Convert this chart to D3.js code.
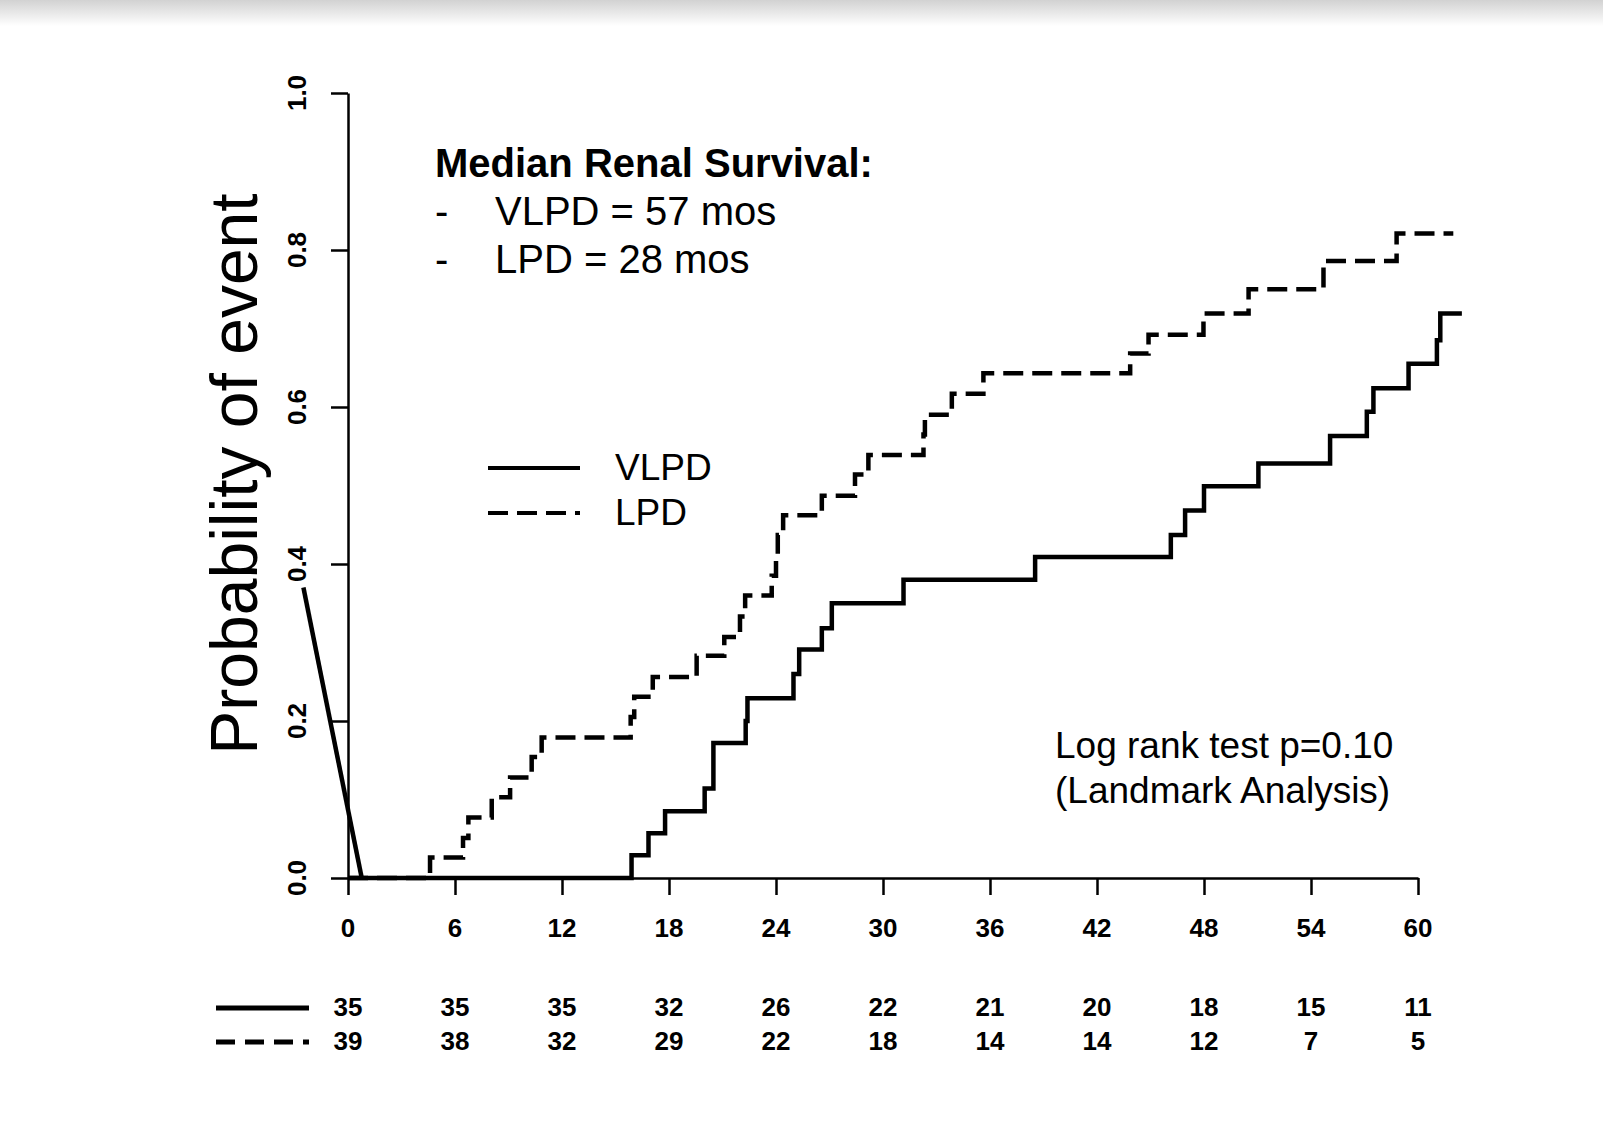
<!DOCTYPE html>
<html>
<head>
    <title>Renal survival - landmark analysis</title>
    <style>
        body { margin: 0; background: #fff; }
        svg text { font-family: "Liberation Sans", Arial, sans-serif; fill: #000; }
        .axis path, .axis line { stroke: #000; stroke-width: 2.5px; }
        .tick-label { font-size: 26px; font-weight: bold; }
        .curve { fill: none; stroke: #000; stroke-width: 4.5px; }
    </style>
    <script src="https://d3js.org/d3.v7.min.js"></script>
</head>
<body>
    <div id="chart"></div>
    <script>
        // step curves (months, cumulative probability of event)
        const vlpdTimes = [0, 15.9, 16.85, 17.78, 20.0, 20.49, 22.3, 22.4, 24.98, 25.3, 26.57, 27.13, 31.15,
            38.53, 46.14, 46.94, 48.0, 51.05, 55.07, 57.13, 57.5, 59.47, 61.06, 61.25, 62.46];
        const vlpdProb = [0, 0.029, 0.057, 0.085, 0.114, 0.172, 0.2, 0.229, 0.26, 0.291, 0.318, 0.35, 0.38,
            0.409, 0.437, 0.468, 0.499, 0.528, 0.563, 0.594, 0.624, 0.655, 0.685, 0.719, 0.719];

        const lpdTimes = [0, 4.6, 6.45, 6.75, 8.06, 9.09, 10.3, 10.86, 15.85, 16.05, 17.09, 19.55, 21.1, 21.98,
            22.27, 23.76, 24.0, 24.1, 24.4, 26.57, 28.43, 29.18, 32.27, 32.35, 33.86, 35.63, 43.86, 44.89,
            47.97, 50.5, 54.7, 58.8, 61.98];
        const lpdProb = [0, 0.026, 0.051, 0.077, 0.103, 0.128, 0.154, 0.179, 0.205, 0.231, 0.256, 0.283, 0.307, 0.333,
            0.36, 0.385, 0.41, 0.437, 0.462, 0.487, 0.514, 0.539, 0.565, 0.59, 0.617, 0.643, 0.668, 0.692,
            0.719, 0.75, 0.786, 0.821, 0.821];

        // stray leading segment of the solid curve as it appears in the figure
        const vlpdLeadTimes = [-2.5, 0.77];
        const vlpdLeadProb = [0.37, 0];

        const xTicks = [0, 6, 12, 18, 24, 30, 36, 42, 48, 54, 60];
        const yTicks = [0, 0.2, 0.4, 0.6, 0.8, 1.0];
        const atRiskVLPD = [35, 35, 35, 32, 26, 22, 21, 20, 18, 15, 11];
        const atRiskLPD = [39, 38, 32, 29, 22, 18, 14, 14, 12, 7, 5];

        const seriesNames = ["VLPD", "LPD"];
        const medianLines = ["VLPD = 57 mos", "LPD = 28 mos"];
        const testLines = ["Log rank test p=0.10", "(Landmark Analysis)"];

        const width = 1603;
        const height = 1145;
        const dash = "20,9";

        const svg = d3.select("#chart").append("svg")
            .attr("width", width)
            .attr("height", height);

        // grey shadow along the top edge
        const grad = svg.append("defs").append("linearGradient")
            .attr("id", "topShade").attr("x1", 0).attr("y1", 0).attr("x2", 0).attr("y2", 1);
        grad.append("stop").attr("offset", "0%").attr("stop-color", "#d2d2d2");
        grad.append("stop").attr("offset", "100%").attr("stop-color", "#fff");
        svg.append("rect").attr("width", width).attr("height", 26).attr("fill", "url(#topShade)");

        const x = d3.scaleLinear().domain([0, 60]).range([348, 1418]);
        const y = d3.scaleLinear().domain([0, 1]).range([878, 93]);

        // axes
        svg.append("g").attr("class", "axis")
            .attr("transform", `translate(0,${y(0)})`)
            .call(d3.axisBottom(x).tickValues(xTicks).tickSize(17).tickSizeOuter(0).tickFormat(""));
        svg.append("g").attr("class", "axis")
            .attr("transform", `translate(${x(0)},0)`)
            .call(d3.axisLeft(y).tickValues(yTicks).tickSize(17).tickSizeOuter(0).tickFormat(""));

        svg.selectAll(".xlab").data(xTicks).enter().append("text")
            .attr("class", "tick-label")
            .attr("x", d => x(d))
            .attr("y", 937)
            .attr("text-anchor", "middle")
            .text(d => d);

        svg.selectAll(".ylab").data(yTicks).enter().append("text")
            .attr("class", "tick-label")
            .attr("transform", d => `translate(306,${y(d)}) rotate(-90)`)
            .attr("text-anchor", "middle")
            .text(d => d3.format(".1f")(d));

        svg.append("text")
            .attr("transform", "translate(257,474) rotate(-90)")
            .attr("text-anchor", "middle")
            .style("font-size", "66px")
            .text("Probability of event");

        // curves
        const stepLine = d3.line()
            .x(d => x(d[0]))
            .y(d => y(d[1]))
            .curve(d3.curveStepAfter);
        const straight = d3.line().x(d => x(d[0])).y(d => y(d[1]));

        svg.append("path").attr("class", "curve")
            .attr("stroke-width", 5.5)
            .attr("d", straight(d3.zip(vlpdLeadTimes, vlpdLeadProb)));
        svg.append("path").attr("class", "curve")
            .attr("d", stepLine(d3.zip(vlpdTimes, vlpdProb)));
        svg.append("path").attr("class", "curve")
            .attr("stroke-dasharray", dash)
            .attr("d", stepLine(d3.zip(lpdTimes, lpdProb)));

        // median text block
        svg.append("text")
            .attr("x", 435).attr("y", 177)
            .style("font-size", "40px").style("font-weight", "bold")
            .text("Median Renal Survival:");
        medianLines.forEach((t, i) => {
            svg.append("text").attr("x", 435).attr("y", 225 + i * 48)
                .style("font-size", "40px").text("-");
            svg.append("text").attr("x", 495).attr("y", 225 + i * 48)
                .style("font-size", "40px").text(t);
        });

        // legend
        seriesNames.forEach((name, i) => {
            const ly = 468 + i * 45;
            svg.append("line")
                .attr("x1", 488).attr("x2", 580).attr("y1", ly).attr("y2", ly)
                .attr("stroke", "#000").attr("stroke-width", 4)
                .attr("stroke-dasharray", i === 1 ? dash : null);
            svg.append("text")
                .attr("x", 615).attr("y", ly + 12)
                .style("font-size", "37px")
                .text(name);
        });

        // log rank note
        testLines.forEach((t, i) => {
            svg.append("text")
                .attr("x", 1055).attr("y", 758 + i * 45)
                .style("font-size", "37px")
                .text(t);
        });

        // numbers at risk
        [atRiskVLPD, atRiskLPD].forEach((row, i) => {
            const ry = 1008 + i * 34;
            svg.append("line")
                .attr("x1", 216).attr("x2", 309).attr("y1", ry).attr("y2", ry)
                .attr("stroke", "#000").attr("stroke-width", 5)
                .attr("stroke-dasharray", i === 1 ? "19,10" : null);
            svg.selectAll(".risk" + i).data(row).enter().append("text")
                .attr("class", "tick-label")
                .attr("x", (d, j) => x(xTicks[j]))
                .attr("y", ry + 8)
                .attr("text-anchor", "middle")
                .text(d => d);
        });
    </script>
</body>
</html>
